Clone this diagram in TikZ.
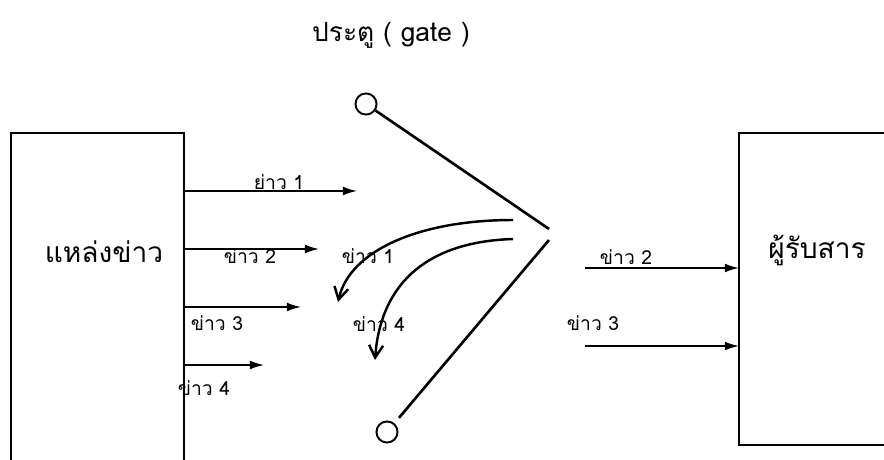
\documentclass[tikz,border=0pt]{standalone}
\usepackage{fontspec}
\newfontfamily\thaifont[Script=Thai]{Loma}
\usetikzlibrary{arrows.meta,positioning}
\tikzset{
  boxline/.style={line width=1.1pt},
  msg/.style={-{Latex[length=8pt,width=5pt]},line width=1pt},
  swing/.style={-{Straight Barb[length=7pt,width=8pt]},line width=1.4pt},
  gateline/.style={line width=1.5pt},
  lbl/.style={font=\thaifont\fontsize{11}{12}\selectfont,inner sep=0pt},
  bigl/.style={font=\thaifont\fontsize{16}{18}\selectfont,inner sep=0pt},
  pin/.style={circle,draw,line width=1.1pt,minimum size=12pt,inner sep=0pt}
}
\begin{document}
\begin{tikzpicture}[x=0.02cm,y=-0.02cm]
        \useasboundingbox (0,0) rectangle (884,459);
        \clip (0,0) rectangle (884,459);
        % source and receiver (cut off by the page edge)
        \draw[boxline](11,480)--(11,133)--(184,133)--(184,480);
        \draw[boxline](900,133)--(739,133)--(739,445)--(900,445);
        \node[bigl] (src) at (104,252) {แหล่งข่าว};
        \node[bigl] (dst) at (817,250) {ผู้รับสาร};
        \node[font=\thaifont\fontsize{15}{17}\selectfont] (gate) at (391,35) {ประตู ( gate )};
        % messages leaving the source
        \foreach \n/\y/\xe in {1/191/357,2/249/319,3/307/301,4/365/264}{
          \coordinate (s\n) at (184,\y);
          \coordinate (e\n) at (\xe,\y);
          \draw[msg] (s\n) -- (e\n);
        }
        \node[lbl] (m1) at (279,182) {ย่าว 1};
        \node[lbl] (m2) at (250,256) {ข่าว 2};
        \node[lbl] (m3) at (217,323) {ข่าว 3};
        \node[lbl] (m4) at (204,388) {ข่าว 4};
        % the gate
        \node[pin] (top) at (366,104) {};
        \node[pin] (bot) at (387,432) {};
        \coordinate (pa) at (549,229);
        \coordinate (pb) at (549,240);
        \draw[gateline] (top) -- (pa);
        \draw[gateline,shorten <=4pt] (bot) -- (pb);
        % rejected messages turned back
        \coordinate (ra) at (513,220);
        \coordinate (rb) at (513,239);
        \coordinate (ta) at (338,302);
        \coordinate (tb) at (375,360);
        \draw[swing] (ra) .. controls (420,220) and (350,250) .. (ta);
        \draw[swing] (rb) .. controls (420,242) and (380,290) .. (tb);
        \node[lbl] (r1) at (368,256) {ข่าว 1};
        \node[lbl] (r4) at (379,324) {ข่าว 4};
        % messages let through
        \coordinate (g2) at (585,268);
        \coordinate (g3) at (585,346);
        \coordinate (d2) at (739,268);
        \coordinate (d3) at (739,346);
        \draw[msg] (g2) -- (d2);
        \draw[msg] (g3) -- (d3);
        \node[lbl] (p2) at (626,257) {ข่าว 2};
        \node[lbl] (p3) at (593,323) {ข่าว 3};
      \end{tikzpicture}
\end{document}
